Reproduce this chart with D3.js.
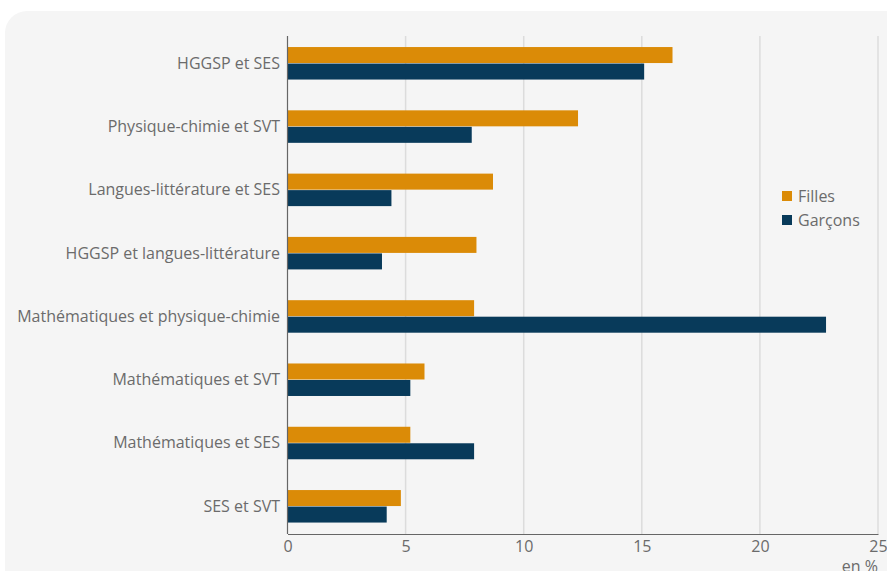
<!DOCTYPE html>
<html><head><meta charset="utf-8">
<script src="https://cdn.jsdelivr.net/npm/d3@7"></script>
<style>body{margin:0;background:#fff;} text{font-family:"Open Sans",sans-serif;}</style>
</head><body><svg id="c" width="887" height="571"></svg>
<script>
const categories = ["HGGSP et SES","Physique-chimie et SVT","Langues-littérature et SES","HGGSP et langues-littérature","Mathématiques et physique-chimie","Mathématiques et SVT","Mathématiques et SES","SES et SVT"];
const filles = [16.3,12.3,8.7,8.0,7.9,5.8,5.2,4.8];
const garcons = [15.1,7.8,4.4,4.0,22.8,5.2,7.9,4.2];
const seriesNames = ["Filles","Garçons"];
const colors = ["#db8b07","#083a5a"];
const ticks = [0,5,10,15,20,25];
const unitLabel = "en %";

(function(){
const svg = d3.select("#c");
const fs = 16;
svg.append("rect").attr("x",5).attr("y",11).attr("width",920).attr("height",600).attr("rx",22).attr("fill","#f5f5f5");

const x = d3.scaleLinear().domain([0,25]).range([287.5,878]);
const y = d3.scaleBand().domain(categories).range([31.4,537.7]).padding(0);
const plotTop=36, plotBottom=534;

svg.append("g").selectAll("line").data(ticks.slice(1)).join("line")
  .attr("x1",d=>x(d)).attr("x2",d=>x(d)).attr("y1",plotTop).attr("y2",plotBottom)
  .attr("stroke","#dcdcdc").attr("stroke-width",1.5);

const bh=16;
const g = svg.append("g");
categories.forEach((c,i)=>{
  const cy = y(c)+y.bandwidth()/2;
  g.append("rect").attr("x",x(0)).attr("y",cy-bh).attr("width",x(filles[i])-x(0)).attr("height",bh).attr("fill",colors[0]);
  g.append("rect").attr("x",x(0)).attr("y",cy+0.5).attr("width",x(garcons[i])-x(0)).attr("height",bh).attr("fill",colors[1]);
  svg.append("text").attr("x",280).attr("y",cy).attr("dy","0.35em").attr("text-anchor","end")
    .attr("font-size",fs).attr("fill","#6b6b6b").text(c);
});

svg.append("line").attr("x1",x(0)).attr("x2",x(0)).attr("y1",plotTop).attr("y2",plotBottom).attr("stroke","#666").attr("stroke-width",1.2);
const xAxis = d3.axisBottom(x).tickValues(ticks).tickSize(0).tickPadding(7);
const ax = svg.append("g").attr("transform",`translate(0,${plotBottom})`).call(xAxis);
ax.select(".domain").attr("stroke","#666").attr("stroke-width",1.2);
ax.selectAll("text").attr("font-size",fs).attr("fill","#6b6b6b").attr("font-family","'Open Sans',sans-serif");

svg.append("text").attr("x",878).attr("y",572).attr("text-anchor","end").attr("font-size",fs).attr("fill","#6b6b6b").text(unitLabel);

seriesNames.forEach((s,i)=>{
  const ly = 196 + i*24;
  svg.append("rect").attr("x",782).attr("y",ly-5).attr("width",10).attr("height",10).attr("fill",colors[i]);
  svg.append("text").attr("x",798).attr("y",ly).attr("dy","0.35em").attr("font-size",fs).attr("fill","#6b6b6b").text(s);
});
})();
</script></body></html>
